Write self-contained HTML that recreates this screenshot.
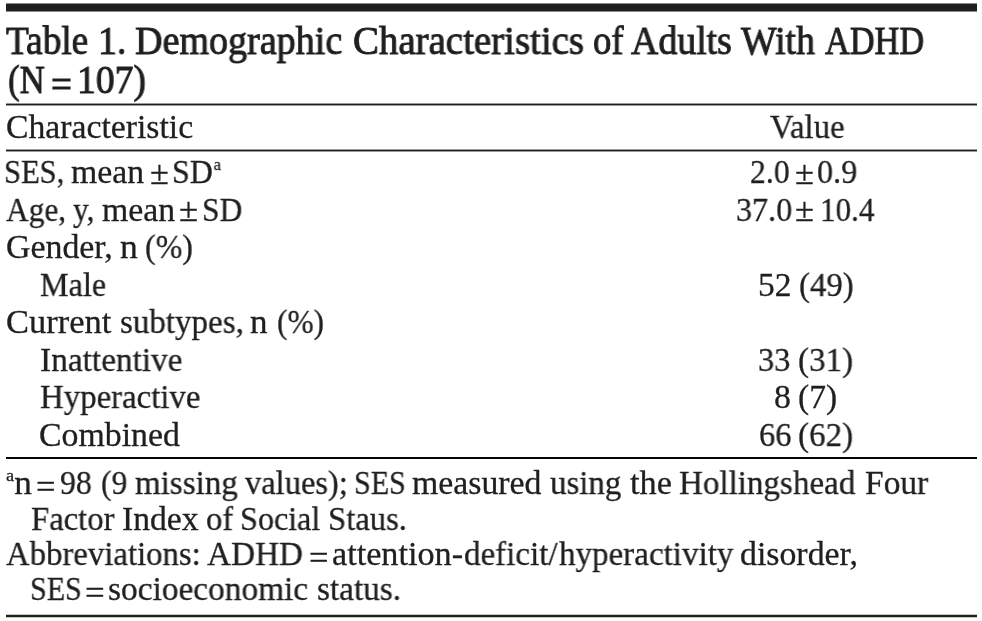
<!DOCTYPE html>
<html><head><meta charset="utf-8"><style>
html,body{margin:0;padding:0;background:#fff;}
body{width:982px;height:621px;position:relative;overflow:hidden;font-family:"Liberation Serif",serif;color:#1f1f1f;}
.l{position:absolute;white-space:nowrap;line-height:1;-webkit-text-stroke:0.3px #1f1f1f;}
.l span{display:inline-block;transform-origin:0 0;will-change:transform;}
.b{-webkit-text-stroke:0.9px #1f1f1f;}
sup{font-size:0.52em;vertical-align:0;position:relative;top:-13.5px;margin-left:1px;}
.r{position:absolute;left:5.5px;width:971px;}
</style></head>
<body>

<div class="r" style="top:3px;height:9px;background:linear-gradient(#8c8c8c 0,#8c8c8c 1px,#1f1f1f 1px,#1f1f1f 8px,#8c8c8c 8px)"></div>
<div class="r" style="top:103px;height:3px;background:linear-gradient(#9a9a9a 0,#9a9a9a 1px,#1f1f1f 1px,#1f1f1f 2px,#9a9a9a 2px)"></div>
<div class="r" style="top:149px;height:3px;background:linear-gradient(#9a9a9a 0,#9a9a9a 1px,#1f1f1f 1px,#1f1f1f 2px,#9a9a9a 2px)"></div>
<div class="r" style="top:457px;height:2px;background:#050505"></div>
<div class="r" style="top:614px;height:4px;background:linear-gradient(#c8c8c8 0,#c8c8c8 1px,#1f1f1f 1px,#1f1f1f 3px,#c8c8c8 3px)"></div>

<div id="t1_0" class="l b" style="left:6.20px;top:20.84px;font-size:39px"><span style="transform:scaleX(0.9551)">Table</span></div>
<div id="t1_1" class="l b" style="left:98.11px;top:20.84px;font-size:39px"><span style="transform:scaleX(0.9702)">1.</span></div>
<div id="t1_2" class="l b" style="left:135.14px;top:20.84px;font-size:39px"><span style="transform:scaleX(0.9766)">Demographic</span></div>
<div id="t1_3" class="l b" style="left:353.00px;top:20.84px;font-size:39px"><span style="transform:scaleX(0.9970)">Characteristics</span></div>
<div id="t1_4" class="l b" style="left:592.69px;top:20.84px;font-size:39px"><span style="transform:scaleX(0.9400)">of</span></div>
<div id="t1_5" class="l b" style="left:631.32px;top:20.84px;font-size:39px"><span style="transform:scaleX(0.9694)">Adults</span></div>
<div id="t1_6" class="l b" style="left:740.52px;top:20.84px;font-size:39px"><span style="transform:scaleX(0.9671)">With</span></div>
<div id="t1_7" class="l b" style="left:825.28px;top:20.84px;font-size:39px"><span style="transform:scaleX(0.8798)">ADHD</span></div>
<div id="t2_0" class="l b" style="left:8.23px;top:60.14px;font-size:39px"><span style="transform:scaleX(0.8933)">(N</span></div>
<div id="t2_1" class="l b" style="left:50.60px;top:65.04px;font-size:39px"><span style="transform:scaleX(0.9489)">=</span></div>
<div id="t2_2" class="l b" style="left:76.84px;top:60.14px;font-size:39px"><span style="transform:scaleX(0.9650)">107)</span></div>
<div id="h_0" class="l" style="left:6.04px;top:109.94px;font-size:33.5px"><span style="transform:scaleX(1.0062)">Characteristic</span></div>
<div id="h_1" class="l" style="left:769.96px;top:109.94px;font-size:33.5px"><span style="transform:scaleX(0.9764)">Value</span></div>
<div id="r1_0" class="l" style="left:4.35px;top:155.44px;font-size:33.5px"><span style="transform:scaleX(0.9118)">SES,</span></div>
<div id="r1_1" class="l" style="left:70.81px;top:155.44px;font-size:33.5px"><span style="transform:scaleX(1.0075)">mean</span></div>
<div id="r1_2" class="l" style="left:149.52px;top:155.94px;font-size:33.5px"><span style="transform:scaleX(1.0253)">±</span></div>
<div id="r1_3" class="l" style="left:171.65px;top:155.44px;font-size:33.5px"><span style="transform:scaleX(0.9504)">SD<sup>a</sup></span></div>
<div id="r2_0" class="l" style="left:6.25px;top:192.54px;font-size:33.5px"><span style="transform:scaleX(0.9366)">Age,</span></div>
<div id="r2_1" class="l" style="left:73.06px;top:192.54px;font-size:33.5px"><span style="transform:scaleX(0.9359)">y,</span></div>
<div id="r2_2" class="l" style="left:101.67px;top:192.54px;font-size:33.5px"><span style="transform:scaleX(1.0087)">mean</span></div>
<div id="r2_3" class="l" style="left:179.12px;top:193.04px;font-size:33.5px"><span style="transform:scaleX(1.0383)">±</span></div>
<div id="r2_4" class="l" style="left:202.13px;top:192.54px;font-size:33.5px"><span style="transform:scaleX(0.9385)">SD</span></div>
<div id="r3_0" class="l" style="left:6.00px;top:230.14px;font-size:33.5px"><span style="transform:scaleX(1.0107)">Gender,</span></div>
<div id="r3_1" class="l" style="left:119.57px;top:230.14px;font-size:33.5px"><span style="transform:scaleX(1.0625)">n</span></div>
<div id="r3_2" class="l" style="left:145.27px;top:230.14px;font-size:33.5px"><span style="transform:scaleX(0.9545)">(%)</span></div>
<div id="r4_0" class="l" style="left:39.63px;top:267.54px;font-size:33.5px"><span style="transform:scaleX(0.9597)">Male</span></div>
<div id="r5_0" class="l" style="left:5.76px;top:305.14px;font-size:33.5px"><span style="transform:scaleX(1.0284)">Current</span></div>
<div id="r5_1" class="l" style="left:119.57px;top:305.14px;font-size:33.5px"><span style="transform:scaleX(0.9861)">subtypes,</span></div>
<div id="r5_2" class="l" style="left:249.81px;top:305.14px;font-size:33.5px"><span style="transform:scaleX(1.0472)">n</span></div>
<div id="r5_3" class="l" style="left:276.59px;top:305.14px;font-size:33.5px"><span style="transform:scaleX(0.9366)">(%)</span></div>
<div id="r6_0" class="l" style="left:39.53px;top:342.54px;font-size:33.5px"><span style="transform:scaleX(0.9955)">Inattentive</span></div>
<div id="r7_0" class="l" style="left:39.89px;top:380.14px;font-size:33.5px"><span style="transform:scaleX(0.9801)">Hyperactive</span></div>
<div id="r8_0" class="l" style="left:38.83px;top:417.54px;font-size:33.5px"><span style="transform:scaleX(1.0096)">Combined</span></div>
<div id="v1_0" class="l" style="left:749.73px;top:155.44px;font-size:33.5px"><span style="transform:scaleX(0.9458)">2.0</span></div>
<div id="v1_1" class="l" style="left:795.13px;top:155.94px;font-size:33.5px"><span style="transform:scaleX(1.0310)">±</span></div>
<div id="v1_2" class="l" style="left:817.11px;top:155.44px;font-size:33.5px"><span style="transform:scaleX(0.9593)">0.9</span></div>
<div id="v2_0" class="l" style="left:736.08px;top:192.54px;font-size:33.5px"><span style="transform:scaleX(0.9571)">37.0</span></div>
<div id="v2_1" class="l" style="left:795.44px;top:193.04px;font-size:33.5px"><span style="transform:scaleX(1.0311)">±</span></div>
<div id="v2_2" class="l" style="left:820.21px;top:192.54px;font-size:33.5px"><span style="transform:scaleX(0.9275)">10.4</span></div>
<div id="v4_0" class="l" style="left:757.74px;top:267.54px;font-size:33.5px"><span style="transform:scaleX(0.9887)">52</span></div>
<div id="v4_1" class="l" style="left:798.66px;top:267.54px;font-size:33.5px"><span style="transform:scaleX(0.9777)">(49)</span></div>
<div id="v6_0" class="l" style="left:758.19px;top:342.54px;font-size:33.5px"><span style="transform:scaleX(0.9658)">33</span></div>
<div id="v6_1" class="l" style="left:797.83px;top:342.54px;font-size:33.5px"><span style="transform:scaleX(0.9854)">(31)</span></div>
<div id="v7_0" class="l" style="left:774.33px;top:380.14px;font-size:33.5px"><span style="transform:scaleX(1.0091)">8</span></div>
<div id="v7_1" class="l" style="left:797.85px;top:380.14px;font-size:33.5px"><span style="transform:scaleX(0.9883)">(7)</span></div>
<div id="v8_0" class="l" style="left:758.64px;top:417.54px;font-size:33.5px"><span style="transform:scaleX(0.9686)">66</span></div>
<div id="v8_1" class="l" style="left:797.83px;top:417.54px;font-size:33.5px"><span style="transform:scaleX(0.9854)">(62)</span></div>
<div id="f1_0" class="l" style="left:4.62px;top:466.24px;font-size:33.5px"><span style="transform:scaleX(1.0512)"><sup>a</sup>n</span></div>
<div id="f1_1" class="l" style="left:36.47px;top:469.54px;font-size:33.5px"><span style="transform:scaleX(1.0335)">=</span></div>
<div id="f1_2" class="l" style="left:59.86px;top:466.24px;font-size:33.5px"><span style="transform:scaleX(0.9484)">98</span></div>
<div id="f1_3" class="l" style="left:100.87px;top:466.24px;font-size:33.5px"><span style="transform:scaleX(0.9394)">(9</span></div>
<div id="f1_4" class="l" style="left:135.36px;top:466.24px;font-size:33.5px"><span style="transform:scaleX(0.9860)">missing</span></div>
<div id="f1_5" class="l" style="left:245.14px;top:466.24px;font-size:33.5px"><span style="transform:scaleX(0.9693)">values);</span></div>
<div id="f1_6" class="l" style="left:353.68px;top:466.24px;font-size:33.5px"><span style="transform:scaleX(0.8971)">SES</span></div>
<div id="f1_7" class="l" style="left:412.26px;top:466.24px;font-size:33.5px"><span style="transform:scaleX(1.0090)">measured</span></div>
<div id="f1_8" class="l" style="left:550.28px;top:466.24px;font-size:33.5px"><span style="transform:scaleX(0.9832)">using</span></div>
<div id="f1_9" class="l" style="left:629.59px;top:466.24px;font-size:33.5px"><span style="transform:scaleX(1.0218)">the</span></div>
<div id="f1_10" class="l" style="left:679.30px;top:466.24px;font-size:33.5px"><span style="transform:scaleX(0.9866)">Hollingshead</span></div>
<div id="f1_11" class="l" style="left:864.59px;top:466.24px;font-size:33.5px"><span style="transform:scaleX(0.9964)">Four</span></div>
<div id="f2_0" class="l" style="left:31.03px;top:501.94px;font-size:33.5px"><span style="transform:scaleX(0.9743)">Factor</span></div>
<div id="f2_1" class="l" style="left:122.38px;top:501.94px;font-size:33.5px"><span style="transform:scaleX(1.0038)">Index</span></div>
<div id="f2_2" class="l" style="left:206.38px;top:501.94px;font-size:33.5px"><span style="transform:scaleX(0.9728)">of</span></div>
<div id="f2_3" class="l" style="left:240.28px;top:501.94px;font-size:33.5px"><span style="transform:scaleX(0.9582)">Social</span></div>
<div id="f2_4" class="l" style="left:327.78px;top:501.94px;font-size:33.5px"><span style="transform:scaleX(0.9758)">Staus.</span></div>
<div id="f3_0" class="l" style="left:6.23px;top:537.44px;font-size:33.5px"><span style="transform:scaleX(0.9780)">Abbreviations:</span></div>
<div id="f3_1" class="l" style="left:207.43px;top:537.44px;font-size:33.5px"><span style="transform:scaleX(0.9919)">ADHD</span></div>
<div id="f3_2" class="l" style="left:308.84px;top:540.74px;font-size:33.5px"><span style="transform:scaleX(1.0333)">=</span></div>
<div id="f3_3" class="l" style="left:331.75px;top:537.44px;font-size:33.5px"><span style="transform:scaleX(1.0207)">attention-</span></div>
<div id="f3_4" class="l" style="left:463.50px;top:537.44px;font-size:33.5px"><span style="transform:scaleX(0.9862)">deficit/</span></div>
<div id="f3_5" class="l" style="left:558.96px;top:537.44px;font-size:33.5px"><span style="transform:scaleX(0.9865)">hyperactivity</span></div>
<div id="f3_6" class="l" style="left:739.62px;top:537.44px;font-size:33.5px"><span style="transform:scaleX(1.0094)">disorder,</span></div>
<div id="f4_0" class="l" style="left:30.12px;top:572.44px;font-size:33.5px"><span style="transform:scaleX(0.8971)">SES</span></div>
<div id="f4_1" class="l" style="left:85.13px;top:575.74px;font-size:33.5px"><span style="transform:scaleX(1.0444)">=</span></div>
<div id="f4_2" class="l" style="left:108.16px;top:572.44px;font-size:33.5px"><span style="transform:scaleX(0.9959)">socioeconomic</span></div>
<div id="f4_3" class="l" style="left:316.75px;top:572.44px;font-size:33.5px"><span style="transform:scaleX(0.9931)">status.</span></div>
</body></html>
